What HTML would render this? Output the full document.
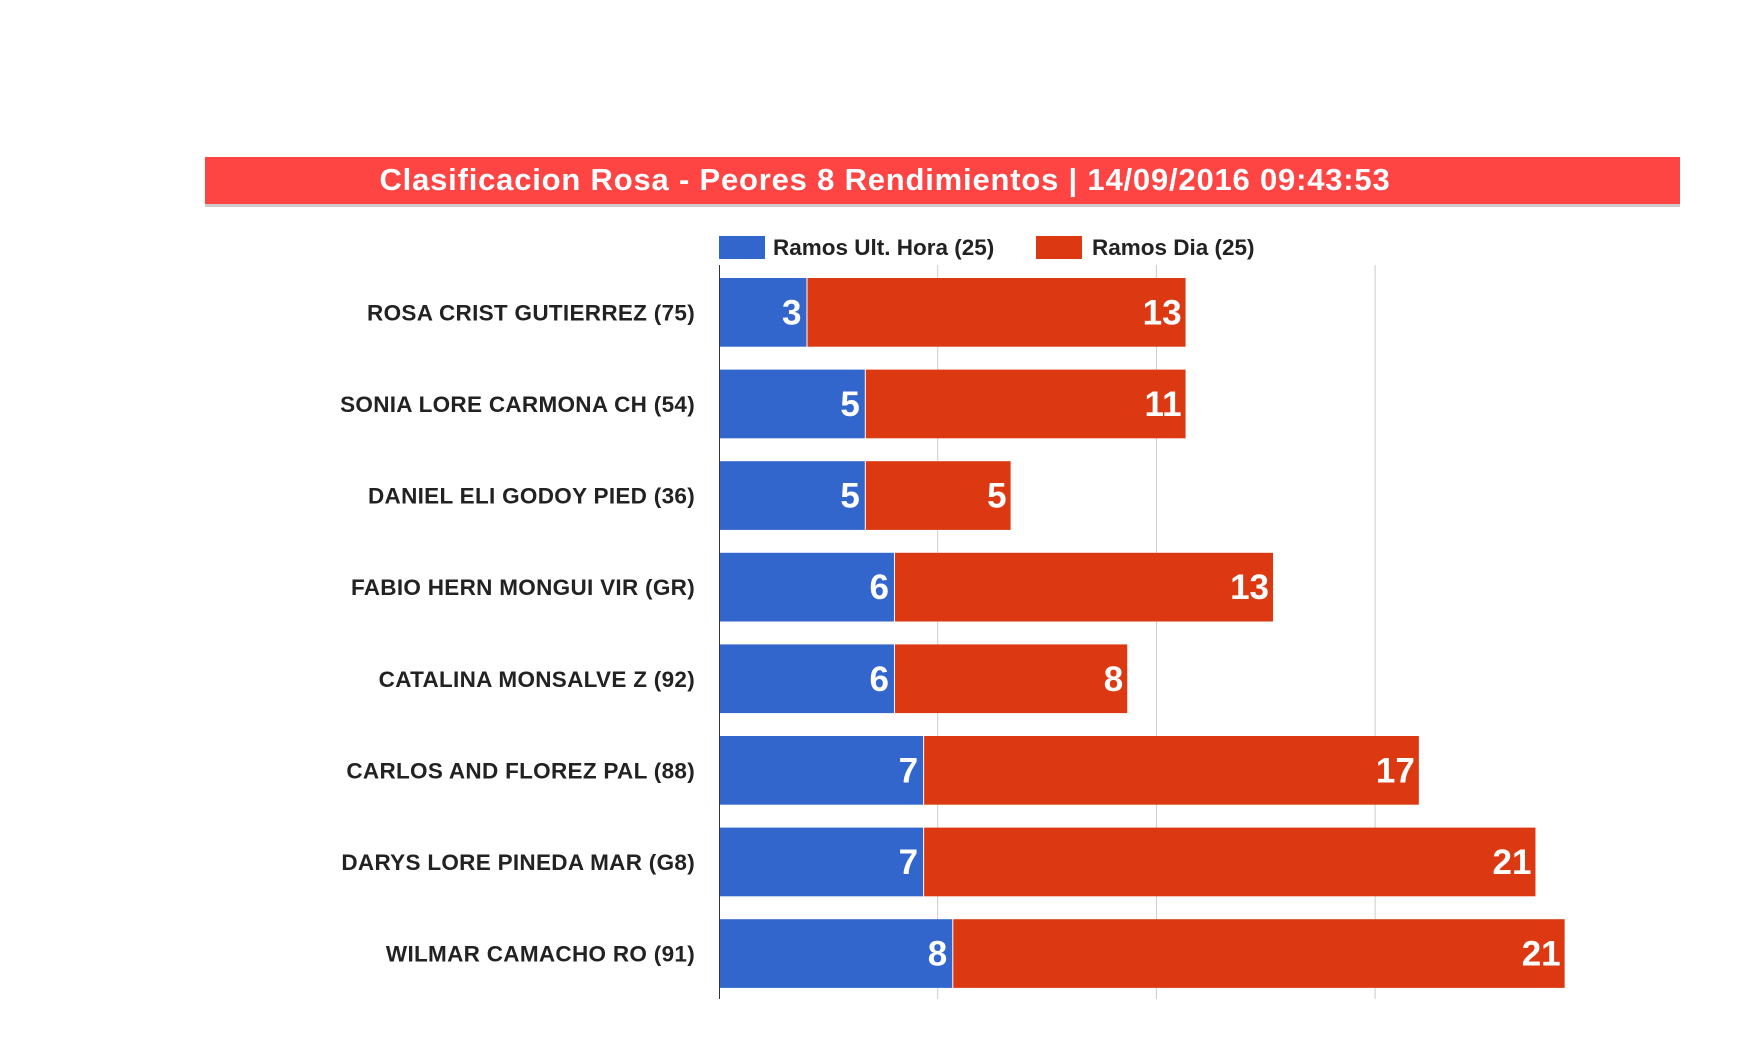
<!DOCTYPE html>
<html><head><meta charset="utf-8"><style>
html,body{margin:0;padding:0;background:#fff;width:1738px;height:1042px;overflow:hidden}
svg{font-family:"Liberation Sans",Arial,sans-serif}
</style></head><body>
<svg id="chart" width="1738" height="1042">
<rect x="205" y="159" width="1475" height="48" fill="#999" opacity="0.5"/>
<rect x="205" y="157" width="1475" height="47" fill="#ff4444"/>
<text x="885" y="190" text-anchor="middle" font-size="31" font-weight="bold" fill="#fff" letter-spacing="0.8">Clasificacion Rosa - Peores 8 Rendimientos | 14/09/2016 09:43:53</text>
<rect x="719" y="236" width="46" height="23" fill="#3366cc"/>
<text x="773" y="255" font-size="22.5" font-weight="bold" fill="#222">Ramos Ult. Hora (25)</text>
<rect x="1036" y="236" width="46" height="23" fill="#dc3912"/>
<text x="1092" y="255" font-size="22.5" font-weight="bold" fill="#222">Ramos Dia (25)</text>
<g id="grid"></g><g id="bars"></g>
<line x1="719.5" y1="265" x2="719.5" y2="999" stroke="#333" stroke-width="1"/>
</svg>
<script>
const categories=["ROSA CRIST GUTIERREZ (75)","SONIA LORE CARMONA CH (54)","DANIEL ELI GODOY PIED (36)","FABIO HERN MONGUI VIR (GR)","CATALINA MONSALVE Z (92)","CARLOS AND FLOREZ PAL (88)","DARYS LORE PINEDA MAR (G8)","WILMAR CAMACHO RO (91)"];
const horaValues=[3,5,5,6,6,7,7,8];
const diaValues=[13,11,5,13,8,17,21,21];
const gridTicks=[7.5,15,22.5];
const NS="http://www.w3.org/2000/svg";
const x0=719, unit=29.16, rowTop=278, rowStep=91.6, barH=68.7;
const xs=v=>x0+v*unit;
const ys=i=>rowTop+i*rowStep;
function mk(tag,attrs,parent){const e=document.createElementNS(NS,tag);for(const k in attrs)e.setAttribute(k,attrs[k]);parent.appendChild(e);return e;}
const grid=document.getElementById('grid'),bars=document.getElementById('bars');
gridTicks.forEach(t=>{
  const l=mk('line',{x1:xs(t),x2:xs(t),y1:265,y2:999,stroke:'#ccc','stroke-width':1},grid);
  
  
});
categories.forEach((c,i)=>{
  const y=ys(i);
  const lab=mk('text',{x:695,y:y+barH/2+8,'text-anchor':'end','font-size':22.5,'font-weight':'bold',fill:'#222','letter-spacing':0.3},bars);
  lab.textContent=c;
  
  
  const h=horaValues[i],d=diaValues[i];
  const b1=mk('rect',{x:xs(0),y:y,width:xs(h)-xs(0),height:barH,fill:'#3366cc'},bars);
  
  
  const b2=mk('rect',{x:xs(h)+1,y:y,width:xs(h+d)-xs(h)-1,height:barH,fill:'#dc3912'},bars);
  
  
  const t1=mk('text',{x:xs(h)-5,y:y+barH/2+12,'text-anchor':'end','font-size':35,'font-weight':'bold',fill:'#fff'},bars);
  t1.textContent=h;
  
  
  const t2=mk('text',{x:xs(h+d)-4,y:y+barH/2+12,'text-anchor':'end','font-size':35,'font-weight':'bold',fill:'#fff'},bars);
  t2.textContent=d;
  
  
});
</script>
</body></html>
